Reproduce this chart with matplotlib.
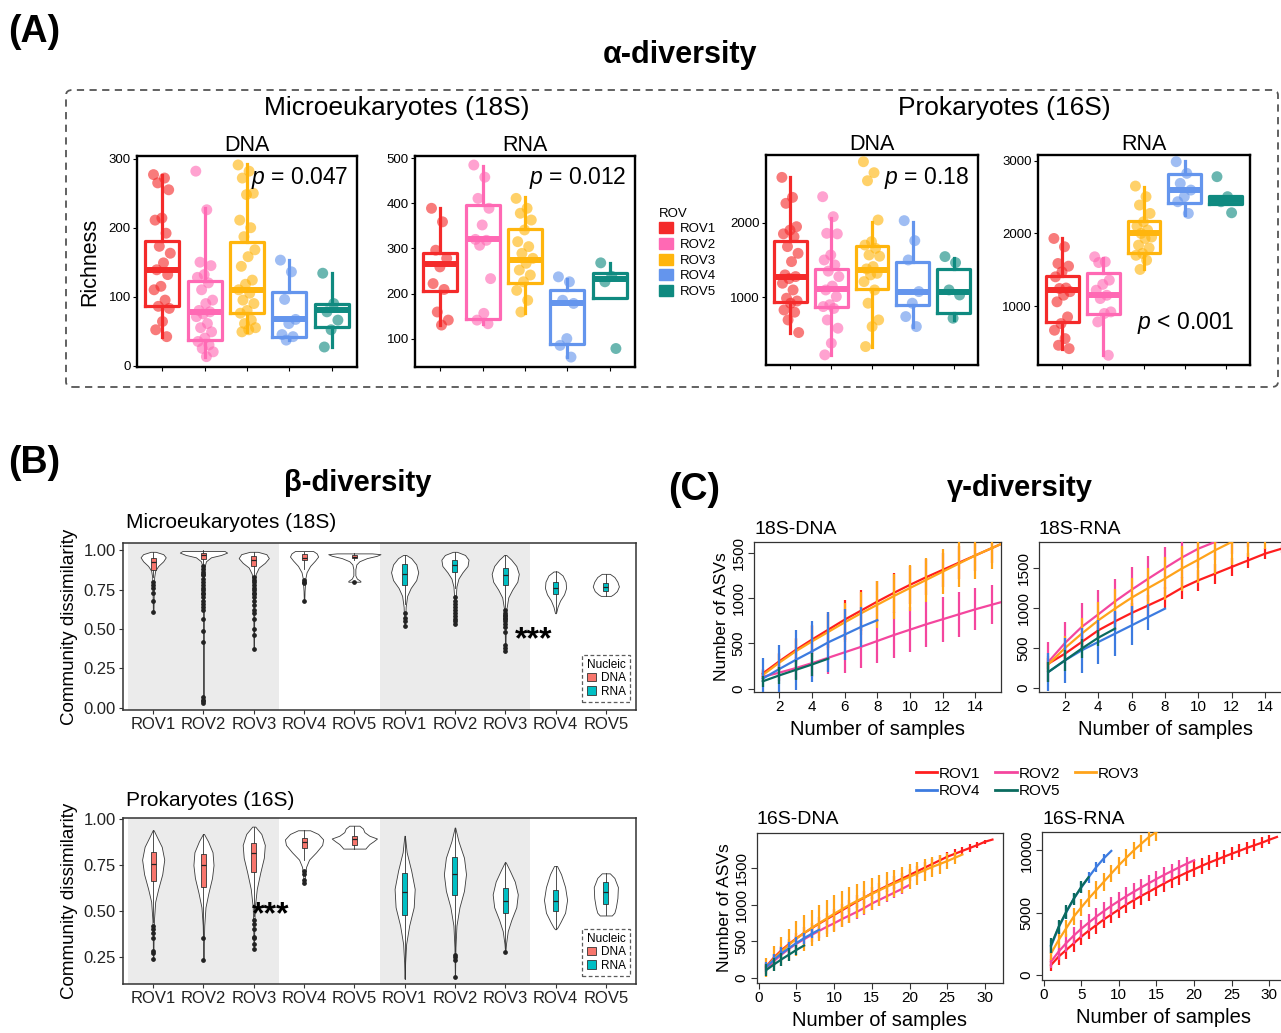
import numpy as np
import matplotlib
matplotlib.use("Agg")
import matplotlib.pyplot as plt
import matplotlib.patches as mpatches
from matplotlib.lines import Line2D

plt.rcParams['font.family'] = ['Liberation Sans', 'DejaVu Sans']
plt.rcParams['mathtext.fontset'] = 'custom'
plt.rcParams['mathtext.it'] = 'Liberation Sans:italic'
plt.rcParams['mathtext.rm'] = 'Liberation Sans'

# ---------------- data ----------------
rovs = ['ROV1', 'ROV2', 'ROV3', 'ROV4', 'ROV5']

# (A) richness: points per ROV and box stats (whislo, q1, med, q3, whishi)
a18_dna_pts = [[277, 272, 265, 255, 214, 211, 192, 173, 163, 149, 139, 132, 115, 110, 95, 86, 83, 64, 52, 42],
               [282, 226, 150, 145, 132, 128, 120, 110, 95, 90, 80, 78, 75, 71, 61, 55, 49, 40, 35, 30, 25, 20, 13],
               [291, 282, 272, 250, 248, 211, 200, 187, 168, 158, 144, 124, 118, 110, 105, 95, 90, 80, 76, 66, 61, 55, 52, 49],
               [153, 136, 96, 67, 61, 45, 42, 37],
               [134, 90, 78, 66, 52, 27]]
a18_dna_box = [(42, 86, 139, 181, 277), (13, 37, 78, 123, 228), (49, 77, 110, 179, 293),
               (37, 42, 67, 107, 153), (27, 56, 80, 90, 134)]

a18_rna_pts = [[389, 359, 296, 278, 259, 222, 209, 159, 141, 130],
               [485, 458, 411, 389, 352, 320, 318, 307, 233, 156, 141, 133],
               [411, 389, 378, 363, 341, 315, 304, 289, 278, 267, 252, 241, 226, 207, 185, 159],
               [237, 226, 185, 178, 100, 85, 59],
               [268, 238, 226, 78]]
a18_rna_box = [(130, 206, 265, 289, 389), (133, 144, 320, 396, 483), (156, 224, 274, 344, 415),
               (59, 89, 178, 207, 233), (189, 189, 232, 246, 268)]

a16_dna_pts = [[2607, 2339, 2259, 1946, 1900, 1850, 1812, 1679, 1589, 1478, 1300, 1277, 1250, 1188, 1098, 987, 950, 920, 830, 800, 696, 527],
               [2348, 2080, 1857, 1850, 1567, 1500, 1433, 1350, 1277, 1150, 1098, 1009, 900, 875, 850, 696, 585, 384, 228],
               [2817, 2670, 2562, 2036, 1745, 1700, 1656, 1567, 1550, 1411, 1380, 1321, 1300, 1210, 1098, 920, 696, 607, 339],
               [2027, 1759, 1500, 1076, 920, 741, 607],
               [1545, 1464, 1098, 1031, 719]]
a16_dna_box = [(527, 938, 1277, 1759, 2607), (228, 875, 1107, 1375, 2058), (339, 1107, 1366, 1687, 2013),
               (607, 897, 1076, 1478, 2013), (696, 795, 1076, 1375, 1522)]

a16_rna_pts = [[1931, 1817, 1587, 1550, 1472, 1404, 1250, 1243, 1200, 1151, 1060, 853, 761, 670, 555, 463, 417],
               [1679, 1610, 1600, 1358, 1300, 1220, 1150, 1105, 922, 900, 784, 326],
               [2651, 2505, 2390, 2275, 2160, 2100, 2046, 2000, 1950, 1931, 1839, 1800, 1725, 1700, 1633, 1505],
               [2986, 2826, 2688, 2596, 2505, 2436, 2275],
               [2780, 2505, 2436, 2284]]
a16_rna_box = [(417, 784, 1220, 1413, 1931), (326, 890, 1151, 1450, 1656), (1518, 1734, 2000, 2174, 2642),
               (2252, 2422, 2596, 2817, 3000), (2404, 2404, 2459, 2514, 2514)]

# (B) community dissimilarity: violin profiles (value, half width), box stats, outliers
b_labels = rovs + rovs
b18_prof = [[(0.99, 0.05), (0.975, 0.2), (0.955, 0.25), (0.93, 0.2), (0.9, 0.1), (0.87, 0.04), (0.83, 0.02), (0.75, 0.012), (0.61, 0.006)],
            [(0.995, 0.42), (0.985, 0.47), (0.97, 0.35), (0.955, 0.15), (0.93, 0.05), (0.9, 0.025), (0.85, 0.012), (0.7, 0.008), (0.4, 0.005), (0.03, 0.004)],
            [(0.99, 0.08), (0.975, 0.25), (0.95, 0.3), (0.92, 0.22), (0.89, 0.1), (0.85, 0.04), (0.8, 0.02), (0.65, 0.01), (0.37, 0.005)],
            [(0.995, 0.18), (0.98, 0.25), (0.96, 0.28), (0.935, 0.22), (0.9, 0.12), (0.86, 0.05), (0.82, 0.025), (0.79, 0.02), (0.74, 0.01), (0.68, 0.005)],
            [(0.98, 0.35), (0.975, 0.52), (0.965, 0.45), (0.95, 0.25), (0.93, 0.1), (0.91, 0.04), (0.88, 0.02), (0.84, 0.02), (0.82, 0.05), (0.805, 0.12), (0.8, 0.12)],
            [(0.97, 0.03), (0.95, 0.13), (0.91, 0.23), (0.86, 0.27), (0.81, 0.23), (0.76, 0.12), (0.71, 0.05), (0.64, 0.02), (0.52, 0.006)],
            [(0.99, 0.04), (0.97, 0.2), (0.94, 0.27), (0.9, 0.25), (0.86, 0.15), (0.82, 0.07), (0.77, 0.03), (0.7, 0.015), (0.53, 0.006)],
            [(0.97, 0.02), (0.94, 0.12), (0.9, 0.22), (0.85, 0.27), (0.8, 0.24), (0.75, 0.14), (0.7, 0.06), (0.62, 0.02), (0.5, 0.01), (0.36, 0.004)],
            [(0.865, 0.04), (0.84, 0.14), (0.8, 0.2), (0.76, 0.21), (0.72, 0.17), (0.68, 0.09), (0.64, 0.04), (0.6, 0.01)],
            [(0.85, 0.08), (0.83, 0.17), (0.8, 0.23), (0.77, 0.26), (0.74, 0.22), (0.72, 0.15), (0.71, 0.1)]]
b18_box = [(0.83, 0.875, 0.925, 0.95, 0.99), (0.91, 0.945, 0.97, 0.985, 1.0), (0.84, 0.9, 0.94, 0.965, 0.99),
           (0.88, 0.935, 0.95, 0.975, 0.99), (0.94, 0.95, 0.96, 0.97, 0.98),
           (0.66, 0.78, 0.85, 0.91, 0.97), (0.76, 0.86, 0.905, 0.94, 0.99), (0.64, 0.78, 0.84, 0.89, 0.97),
           (0.61, 0.72, 0.76, 0.8, 0.865), (0.71, 0.74, 0.765, 0.79, 0.85)]
b18_out = [[0.8, 0.78, 0.76, 0.73, 0.68, 0.61],
           [0.9, 0.88, 0.86, 0.85, 0.84, 0.82, 0.8, 0.78, 0.76, 0.75, 0.73, 0.72, 0.7, 0.68, 0.66, 0.64, 0.62, 0.56, 0.49, 0.42, 0.07, 0.05, 0.04, 0.03],
           [0.83, 0.81, 0.8, 0.78, 0.76, 0.75, 0.73, 0.72, 0.7, 0.68, 0.65, 0.62, 0.6, 0.56, 0.5, 0.46, 0.37],
           [0.81, 0.8, 0.79, 0.68],
           [0.8],
           [0.6, 0.57, 0.55, 0.52],
           [0.7, 0.68, 0.66, 0.64, 0.62, 0.6, 0.58, 0.56, 0.55, 0.53],
           [0.62, 0.6, 0.59, 0.58, 0.57, 0.56, 0.55, 0.53, 0.51, 0.48, 0.4, 0.38, 0.36],
           [], []]

b16_prof = [[(0.94, 0.01), (0.9, 0.08), (0.85, 0.17), (0.78, 0.22), (0.7, 0.18), (0.62, 0.1), (0.55, 0.04), (0.45, 0.015), (0.35, 0.008), (0.23, 0.004)],
            [(0.92, 0.01), (0.88, 0.09), (0.82, 0.18), (0.75, 0.2), (0.68, 0.17), (0.6, 0.1), (0.52, 0.04), (0.42, 0.015), (0.3, 0.006), (0.23, 0.003)],
            [(0.96, 0.03), (0.92, 0.15), (0.86, 0.22), (0.79, 0.2), (0.71, 0.13), (0.62, 0.06), (0.52, 0.02), (0.4, 0.01), (0.29, 0.004)],
            [(0.94, 0.12), (0.92, 0.28), (0.89, 0.38), (0.86, 0.36), (0.82, 0.24), (0.78, 0.1), (0.74, 0.04), (0.7, 0.02), (0.65, 0.006)],
            [(0.965, 0.1), (0.95, 0.17), (0.93, 0.2), (0.91, 0.3), (0.895, 0.45), (0.88, 0.38), (0.865, 0.3), (0.85, 0.25), (0.84, 0.22)],
            [(0.91, 0.005), (0.82, 0.04), (0.72, 0.13), (0.62, 0.2), (0.52, 0.18), (0.42, 0.09), (0.32, 0.03), (0.22, 0.01), (0.13, 0.002)],
            [(0.955, 0.005), (0.88, 0.07), (0.79, 0.18), (0.7, 0.22), (0.61, 0.18), (0.52, 0.09), (0.42, 0.03), (0.3, 0.01), (0.14, 0.002)],
            [(0.765, 0.01), (0.72, 0.09), (0.66, 0.19), (0.59, 0.25), (0.52, 0.22), (0.45, 0.12), (0.39, 0.05), (0.32, 0.015), (0.275, 0.003)],
            [(0.745, 0.03), (0.7, 0.11), (0.63, 0.19), (0.56, 0.23), (0.49, 0.19), (0.44, 0.1), (0.41, 0.04), (0.4, 0.01)],
            [(0.705, 0.08), (0.68, 0.17), (0.63, 0.24), (0.57, 0.23), (0.52, 0.2), (0.49, 0.17), (0.475, 0.12)]]
b16_box = [(0.44, 0.665, 0.755, 0.82, 0.94), (0.37, 0.63, 0.75, 0.81, 0.92), (0.47, 0.71, 0.815, 0.87, 0.96),
           (0.78, 0.845, 0.875, 0.9, 0.94), (0.84, 0.86, 0.89, 0.91, 0.965),
           (0.13, 0.475, 0.605, 0.705, 0.91), (0.28, 0.585, 0.7, 0.795, 0.955), (0.3, 0.49, 0.555, 0.625, 0.765),
           (0.4, 0.5, 0.555, 0.615, 0.745), (0.475, 0.535, 0.605, 0.655, 0.705)]
b16_out = [[0.42, 0.4, 0.38, 0.35, 0.28, 0.27, 0.235],
           [0.35, 0.23],
           [0.45, 0.43, 0.4, 0.36, 0.35, 0.32, 0.29],
           [0.72, 0.7, 0.67, 0.65],
           [], [],
           [0.26, 0.25, 0.23, 0.14],
           [0.275], [], []]

# (C) accumulation curves: mean and sd per ROV
g18_dna_mean = [[167, 300, 425, 540, 650, 760, 860, 960, 1055, 1145, 1230, 1310, 1390, 1470, 1550, 1630],
                [130, 175, 225, 280, 340, 400, 460, 525, 590, 650, 710, 765, 820, 875, 925, 975],
                [150, 285, 410, 520, 625, 730, 830, 925, 1020, 1110, 1200, 1290, 1380, 1470, 1550, 1630],
                [110, 215, 315, 410, 510, 595, 680, 755],
                [80, 145, 205, 265, 330]]
g18_dna_sd = [[50, 90, 130, 160, 200, 220, 230, 230, 220, 210, 200, 190, 180, 170, 160, 150],
              [60, 90, 120, 150, 180, 230, 235, 240, 250, 250, 250, 250, 250, 230, 215, 200],
              [60, 100, 140, 170, 200, 220, 240, 260, 250, 250, 240, 250, 260, 260, 230, 200],
              [230, 270, 330, 340, 330, 280, 220, 0],
              [60, 90, 110, 130, 0]]
g18_rna_mean = [[304, 429, 575, 721, 833, 938, 1033, 1129, 1250, 1346, 1429, 1513, 1596, 1679, 1742, 1800],
                [325, 563, 763, 921, 1083, 1229, 1367, 1500, 1629, 1742, 1825, 1900, 1975],
                [296, 500, 679, 846, 992, 1129, 1250, 1367, 1492, 1604, 1721, 1825, 1930, 2030, 2130],
                [200, 346, 471, 575, 679, 783, 888, 992],
                [200, 346, 492, 629, 742]]
g18_rna_sd = [[70, 90, 100, 110, 120, 125, 130, 130, 135, 130, 125, 108, 94, 70, 50, 30],
              [250, 260, 300, 310, 280, 280, 280, 265, 250, 240, 230, 220, 210],
              [100, 150, 200, 230, 240, 250, 250, 270, 280, 290, 290, 290, 290, 290, 290],
              [240, 280, 280, 280, 280, 240, 165, 0],
              [130, 130, 120, 100, 0]]
g16_dna_mean = [[160, 280, 380, 465, 545, 615, 680, 745, 805, 865, 925, 985, 1045, 1100, 1160, 1210, 1260, 1310,
                 1360, 1410, 1460, 1510, 1560, 1610, 1660, 1700, 1740, 1780, 1820, 1865, 1895],
                [120, 230, 320, 400, 470, 530, 590, 645, 700, 750, 805, 855, 905, 960, 1020, 1070, 1120, 1170, 1220, 1275],
                [150, 265, 365, 455, 540, 615, 685, 750, 815, 880, 940, 1000, 1055, 1105, 1150, 1200, 1250, 1295,
                 1340, 1385, 1430, 1475, 1520, 1560, 1600, 1645, 1690],
                [150, 250, 335, 410, 480, 545, 605, 660],
                [110, 185, 255, 320, 385, 445]]
g16_dna_sd = [[40, 55, 65, 70, 75, 80, 80, 85, 85, 85, 85, 85, 85, 85, 85, 85, 85, 85, 80, 80, 80, 75, 75, 70, 65,
               60, 55, 50, 40, 30, 0],
              [60, 80, 90, 95, 100, 100, 100, 100, 100, 100, 100, 100, 100, 95, 95, 90, 85, 80, 70, 0],
              [130, 170, 200, 220, 235, 245, 250, 250, 250, 250, 245, 240, 235, 228, 220, 210, 200, 190, 180, 170,
               160, 150, 140, 130, 110, 80, 0],
              [70, 80, 85, 85, 80, 75, 60, 0],
              [80, 90, 90, 85, 70, 0]]
g16_rna_mean = [[800, 1470, 2000, 2530, 3070, 3550, 4000, 4450, 4850, 5250, 5650, 6000, 6350, 6670, 7010, 7330,
                 7650, 7920, 8210, 8480, 8750, 9010, 9250, 9490, 9730, 9950, 10190, 10400, 10610, 10850, 11070],
                [1070, 1870, 2550, 3150, 3700, 4200, 4680, 5120, 5540, 5940, 6320, 6680, 7030, 7370, 7700, 8020,
                 8330, 8630, 8920, 9200],
                [1730, 2800, 3730, 4670, 5410, 6130, 6800, 7470, 8130, 8800, 9410, 10000, 10530, 11070, 11470, 11900],
                [2300, 3800, 5000, 6100, 7000, 7850, 8650, 9350, 9950],
                [2400, 3850, 5050, 6100, 7050, 7850]]
g16_rna_sd = [[500, 650, 700, 700, 700, 700, 700, 700, 700, 700, 700, 700, 700, 700, 700, 700, 700, 680, 660, 640,
               620, 600, 580, 560, 540, 520, 500, 470, 430, 380, 0],
              [500, 650, 700, 700, 700, 700, 700, 700, 700, 700, 700, 700, 680, 660, 640, 620, 600, 580, 550, 0],
              [500, 650, 700, 700, 700, 700, 700, 700, 700, 700, 700, 700, 700, 700, 700, 0],
              [500, 500, 500, 480, 460, 440, 420, 350, 0],
              [600, 600, 550, 500, 450, 0]]

# ---------------- styles ----------------
a_colors = ['#F42A2A', '#FF69B4', '#FFB50D', '#6495ED', '#0F8A80']
c_colors = ['#FF1E1E', '#F4469E', '#FFA31A', '#3C7BE0', '#0A6B5F']
dna_color = '#F8766D'
rna_color = '#00BFC4'

W, H = 1281, 1033
fig = plt.figure(figsize=(W / 100, H / 100), dpi=100)


def px_axes(left, top, right, bottom):
    return fig.add_axes([left / W, 1 - bottom / H, (right - left) / W, (bottom - top) / H])


def ftext(x, y, s, **kw):
    fig.text(x / W, 1 - y / H, s, **kw)


# ---------------- panel A ----------------
def alpha_panel(ax, pts, box, ylim, yticks, ptxt, ppos):
    for i in range(5):
        c = a_colors[i]
        lo, q1, med, q3, hi = box[i]
        st = dict(whislo=lo, q1=q1, med=med, q3=q3, whishi=hi, fliers=[])
        ax.bxp([st], positions=[i + 1], widths=0.8, showfliers=False, showcaps=False,
               manage_ticks=False,
               boxprops=dict(color=c, lw=2.3), whiskerprops=dict(color=c, lw=2.3),
               medianprops=dict(color=c, lw=4.3, solid_capstyle='butt'))
        y = np.array(pts[i])
        off = ((np.arange(len(y)) * 0.618034) % 1 - 0.5) * 0.42
        ax.scatter(i + 1 + off, y, s=62, color=c, alpha=0.62, edgecolors='none', zorder=3)
    ax.set_xlim(0.4, 5.6)
    ax.set_ylim(*ylim)
    ax.set_xticks(range(1, 6))
    ax.set_xticklabels([])
    ax.set_yticks(yticks)
    ax.tick_params(length=3, width=0.8, labelsize=9.5, pad=1.5)
    for sp in ax.spines.values():
        sp.set_linewidth(1.7)
    ax.text(ppos[0], ppos[1], ptxt, transform=ax.transAxes, ha='right', va='center', fontsize=16.5)


ax = px_axes(137, 156, 357, 367)
alpha_panel(ax, a18_dna_pts, a18_dna_box, (-2, 304), [0, 100, 200, 300], r'$p$ = 0.047', (0.96, 0.895))
ax.set_ylabel('Richness', fontsize=15.5, labelpad=6)
ax.set_title('DNA', fontsize=15.5, pad=3)
ax = px_axes(415, 156, 635, 367)
alpha_panel(ax, a18_rna_pts, a18_rna_box, (37, 505), [100, 200, 300, 400, 500], r'$p$ = 0.012', (0.96, 0.895))
ax.set_title('RNA', fontsize=15.5, pad=3)
ax = px_axes(766, 155, 978, 365)
alpha_panel(ax, a16_dna_pts, a16_dna_box, (92, 2907), [1000, 2000], r'$p$ = 0.18', (0.955, 0.89))
ax.set_title('DNA', fontsize=15.5, pad=3)
ax = px_axes(1038, 155, 1250, 365)
alpha_panel(ax, a16_rna_pts, a16_rna_box, (192, 3078), [1000, 2000, 3000], r'$p$ < 0.001', (0.925, 0.2))
ax.set_title('RNA', fontsize=15.5, pad=3)

a_handles = [mpatches.Patch(facecolor=c, edgecolor=c) for c in a_colors]
fig.legend(a_handles, rovs, title='ROV', loc='upper left', bbox_to_anchor=(652 / W, 1 - 201 / H),
           frameon=False, fontsize=9.5, title_fontsize=9.5, handlelength=1.1, handleheight=0.9,
           labelspacing=0.2, handletextpad=0.5, alignment='left', borderpad=0)

box_a = mpatches.FancyBboxPatch((66 / W, 1 - 387 / H), (1278 - 66) / W, (387 - 90) / H,
                                boxstyle='round,pad=0,rounding_size=0.005', transform=fig.transFigure,
                                fill=False, ec='#555555', lw=1.3, ls=(0, (4, 3)))
fig.add_artist(box_a)

ftext(8, 32, '(A)', fontsize=27, weight='bold', va='center')
ftext(680, 55, 'α-diversity', fontsize=22, weight='bold', ha='center', va='center')
ftext(397, 108, 'Microeukaryotes (18S)', fontsize=19, ha='center', va='center')
ftext(1004, 108, 'Prokaryotes (16S)', fontsize=19, ha='center', va='center')


# ---------------- panel B ----------------
def beta_panel(ax, prof, box, outl, ylim, yticks, stars):
    ax.axvspan(0.5, 3.5, color='#EBEBEB', lw=0, zorder=0)
    ax.axvspan(5.5, 8.5, color='#EBEBEB', lw=0, zorder=0)
    for i in range(10):
        x = i + 1
        ys = np.array([p[0] for p in prof[i]])
        hw = np.array([p[1] for p in prof[i]])
        ax.fill_betweenx(ys, x - hw, x + hw, facecolor='white', edgecolor='#3a3a3a', lw=0.6, zorder=2)
        col = dna_color if i < 5 else rna_color
        lo, q1, med, q3, hi = box[i]
        st = dict(whislo=lo, q1=q1, med=med, q3=q3, whishi=hi, fliers=outl[i])
        ax.bxp([st], positions=[x], widths=0.1, patch_artist=True, showcaps=False, manage_ticks=False,
               boxprops=dict(facecolor=col, edgecolor='#333333', lw=0.6),
               whiskerprops=dict(color='#333333', lw=0.6),
               medianprops=dict(color='#222222', lw=0.9),
               flierprops=dict(marker='o', ms=2.4, mfc='#222222', mec='#222222'), zorder=3)
    ax.text(stars[0], stars[1], '***', fontsize=23, weight='bold', ha='center', va='center', zorder=5)
    ax.set_xlim(0.4, 10.6)
    ax.set_ylim(*ylim)
    ax.set_xticks(range(1, 11))
    ax.set_xticklabels(b_labels)
    ax.set_yticks(yticks)
    ax.set_yticklabels(['%.2f' % v for v in yticks])
    ax.tick_params(length=3, width=0.8, color='#333333', labelsize=12, labelcolor='#222222', pad=2)
    for sp in ax.spines.values():
        sp.set_linewidth(1.1)
        sp.set_color('#333333')
    h = [mpatches.Patch(facecolor=dna_color, edgecolor='#333333', lw=0.6),
         mpatches.Patch(facecolor=rna_color, edgecolor='#333333', lw=0.6)]
    leg = ax.legend(h, ['DNA', 'RNA'], title='Nucleic', loc='lower right', bbox_to_anchor=(0.988, 0.05),
                    fontsize=8.5, title_fontsize=8.5, frameon=True, fancybox=False, edgecolor='#333333',
                    handlelength=0.8, handleheight=0.7, labelspacing=0.1, borderpad=0.35,
                    handletextpad=0.4, borderaxespad=0, alignment='left')
    leg.get_frame().set_linestyle((0, (3, 2)))
    leg.get_frame().set_linewidth(0.9)


ax = px_axes(123, 543, 636, 710)
beta_panel(ax, b18_prof, b18_box, b18_out, (-0.015, 1.046), [0, 0.25, 0.5, 0.75, 1.0], (8.56, 0.43))
ax.set_ylabel('Community dissimilarity', fontsize=13.5, labelpad=4)
ftext(126, 523, 'Microeukaryotes (18S)', fontsize=15, va='center')
ax = px_axes(123, 818, 636, 984)
beta_panel(ax, b16_prof, b16_box, b16_out, (0.101, 1.007), [0.25, 0.5, 0.75, 1.0], (3.33, 0.475))
ax.set_ylabel('Community dissimilarity', fontsize=13.5, labelpad=4)
ftext(126, 801, 'Prokaryotes (16S)', fontsize=15, va='center')

ftext(8, 463, '(B)', fontsize=27, weight='bold', va='center')
ftext(358, 483, 'β-diversity', fontsize=21, weight='bold', ha='center', va='center')


# ---------------- panel C ----------------
def gamma_panel(ax, means, sds, xlim, ylim, xticks, yticks, title):
    for i in range(5):
        c = c_colors[i]
        m = np.array(means[i], dtype=float)
        s = np.array(sds[i], dtype=float)
        x = np.arange(1, len(m) + 1)
        ax.plot(x, m, color=c, lw=1.6, zorder=2 + i)
        ax.vlines(x, m - s, m + s, color=c, lw=1.6, zorder=2 + i)
    ax.set_xlim(*xlim)
    ax.set_ylim(*ylim)
    ax.set_xticks(xticks)
    ax.set_yticks(yticks)
    ax.tick_params(length=4, width=0.8, color='#333333', labelsize=11, pad=2)
    ax.tick_params(axis='y', labelrotation=90)
    for lab in ax.get_yticklabels():
        lab.set_va('center')
    for sp in ax.spines.values():
        sp.set_linewidth(0.9)
        sp.set_color('#333333')
    ax.set_xlabel('Number of samples', fontsize=14.5, labelpad=4)
    ax.text(0.0, 1.03, title, transform=ax.transAxes, fontsize=14, ha='left', va='bottom')


ax = px_axes(754, 542, 1001, 692)
gamma_panel(ax, g18_dna_mean, g18_dna_sd, (0.46, 15.57), (-38, 1618), range(2, 15, 2),
            [0, 500, 1000, 1500], '18S-DNA')
ax.set_ylabel('Number of ASVs', fontsize=12.5, labelpad=2)
ax = px_axes(1039, 542, 1291, 692)
gamma_panel(ax, g18_rna_mean, g18_rna_sd, (0.44, 15.56), (-50, 1825), range(2, 15, 2),
            [0, 500, 1000, 1500], '18S-RNA')
ax = px_axes(757, 833, 1003, 983)
gamma_panel(ax, g16_dna_mean, g16_dna_sd, (-0.24, 32.4), (-68, 1985), range(0, 31, 5),
            [0, 500, 1000, 1500], '16S-DNA')
ax.set_ylabel('Number of ASVs', fontsize=12.5, labelpad=2)
ax = px_axes(1042, 832, 1286, 980)
gamma_panel(ax, g16_rna_mean, g16_rna_sd, (-0.2, 32.2), (-400, 11467), range(0, 31, 5),
            [0, 5000, 10000], '16S-RNA')

c_handles = [Line2D([], [], color=c, lw=2) for c in c_colors]
order = [0, 3, 1, 4, 2]
fig.legend([c_handles[k] for k in order], [rovs[k] for k in order], loc='upper left',
           bbox_to_anchor=(908 / W, 1 - 759 / H), ncol=3, frameon=False, fontsize=11,
           handlelength=1.4, handletextpad=0.1, columnspacing=1.0, labelspacing=0.25, borderpad=0)

ftext(668, 490, '(C)', fontsize=27, weight='bold', va='center')
ftext(1020, 488, 'γ-diversity', fontsize=21, weight='bold', ha='center', va='center')

fig.savefig('out.png', dpi=100)
